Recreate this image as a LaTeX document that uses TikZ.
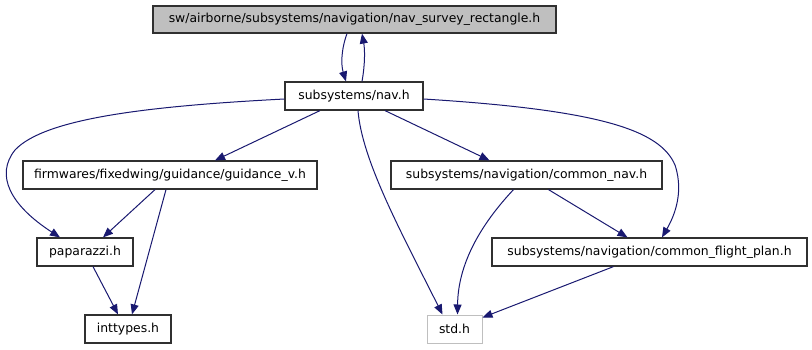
\documentclass[tikz,border=0pt]{standalone}
\usepackage{fontspec}
\setmainfont{DejaVu Sans}
\usetikzlibrary{arrows.meta}
\definecolor{edgeblue}{HTML}{191970}
\definecolor{hdrgray}{HTML}{BFBFBF}
\definecolor{boxline}{HTML}{303030}
\begin{document}
\begin{tikzpicture}[x=1pt,y=-1pt,
  file/.style={draw=boxline, fill=white, line width=1.2pt, rectangle, inner sep=0pt,
    minimum height=28pt, font=\fontsize{12.4}{14}\selectfont},
  dep/.style={draw=edgeblue, line width=1pt, -{Triangle[length=10pt,width=8pt]}}]
  \useasboundingbox (0,0) rectangle (812,349);

  % header file and its includes
  \node[file, fill=hdrgray, minimum width=403pt, minimum height=27pt] (top) at (354.5,19.5) {sw/airborne/subsystems/navigation/nav\_survey\_rectangle.h};
  \node[file, minimum width=138pt] (nav) at (354,96) {subsystems/nav.h};
  \node[file, minimum width=294pt] (guid) at (170,175) {firmwares/fixedwing/guidance/guidance\_v.h};
  \node[file, minimum width=271pt] (cnav) at (526.5,175) {subsystems/navigation/common\_nav.h};
  \node[file, minimum width=96pt] (papa) at (85,252) {paparazzi.h};
  \node[file, minimum width=315pt] (cfp) at (649.5,252) {subsystems/navigation/common\_flight\_plan.h};
  \node[file, minimum width=86pt] (intt) at (128,329) {inttypes.h};
  \node[file, draw=hdrgray, line width=1pt, minimum width=55pt] (std) at (454.5,329) {std.h};

  % include edges
  \draw[dep] ([xshift=-7.5pt]top.south) .. controls (341,50) and (341,65) .. ([xshift=-8pt]nav.north);
  \draw[dep] ([xshift=8pt]nav.north) .. controls (365,65) and (365,50) .. ([xshift=7.5pt]top.south);

  \draw[dep] ([yshift=-3pt]nav.west) .. controls (150,106) and (45,118) .. (15,150)
        .. controls (-5,175) and (10,205) .. ([xshift=-25pt]papa.north);
  \draw[dep] ([xshift=-34pt]nav.south) -- ([xshift=45pt]guid.north);
  \draw[dep] ([xshift=4pt]nav.south) .. controls (362,160) and (400,230) .. ([xshift=-12pt]std.north);
  \draw[dep] ([xshift=31pt]nav.south) -- ([xshift=-37pt]cnav.north);
  \draw[dep] ([yshift=-3pt]nav.east) .. controls (600,110) and (660,130) .. (675,165)
        .. controls (685,195) and (672,220) .. ([xshift=12.5pt]cfp.north);

  \draw[dep] ([xshift=-15pt]guid.south) -- ([xshift=18pt]papa.north);
  \draw[dep] ([xshift=-4pt]guid.south) -- ([xshift=4pt]intt.north);
  \draw[dep] ([xshift=8pt]papa.south) -- ([xshift=-10pt]intt.north);

  \draw[dep] ([xshift=-13pt]cnav.south) .. controls (485,220) and (458,260) .. ([xshift=3pt]std.north);
  \draw[dep] ([xshift=22pt]cnav.south) -- ([xshift=-22pt]cfp.north);
  \draw[dep] ([xshift=-36pt]cfp.south) -- ([yshift=-3pt]std.north east);
\end{tikzpicture}
\end{document}
